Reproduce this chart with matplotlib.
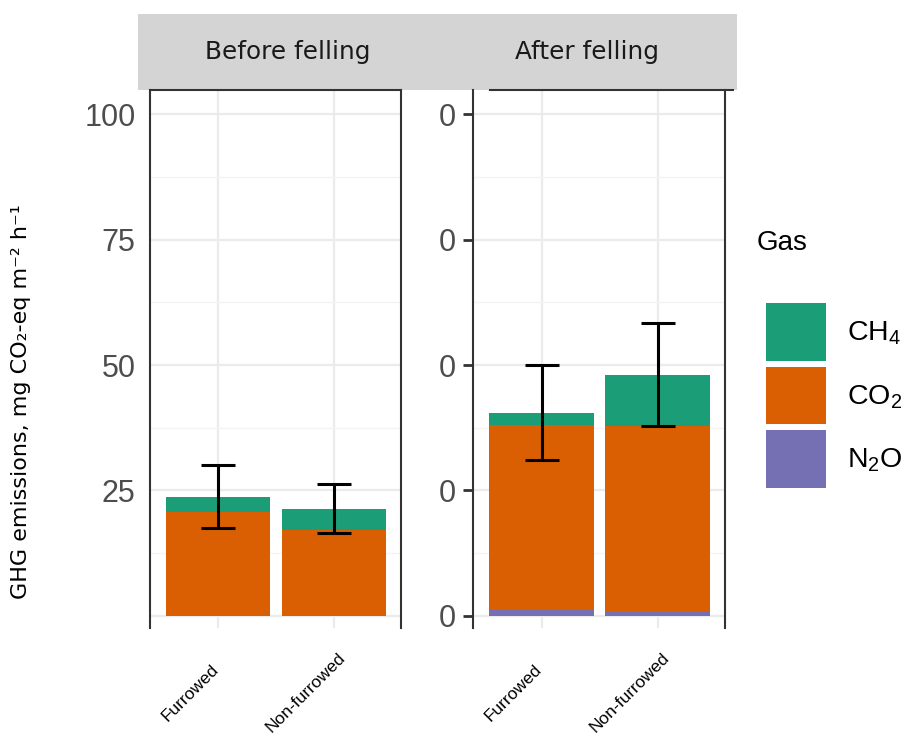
import matplotlib.pyplot as plt
from matplotlib.patches import Patch, Rectangle
from matplotlib.lines import Line2D
from matplotlib import transforms
import numpy as np

plt.rcParams['font.family'] = ['Liberation Sans', 'DejaVu Sans']
plt.rcParams['mathtext.fontset'] = 'custom'
plt.rcParams['mathtext.rm'] = 'Liberation Sans'

# ---- data ----
sites = ["Furrowed", "Non-furrowed"]
periods = ["Before felling", "After felling"]
gas_labels = [r"CH$_\mathregular{4}$", r"CO$_\mathregular{2}$", r"N$_\mathregular{2}$O"]
gas_colors = ["#1b9e77", "#d95f02", "#7570b3"]

# stacked from the bottom: N2O, CO2, CH4
n2o = {"Before felling": [0.2, 0.2], "After felling": [1.2, 0.8]}
co2 = {"Before felling": [20.5, 16.9], "After felling": [36.8, 37.0]}
ch4 = {"Before felling": [3.0, 4.2], "After felling": [2.4, 10.2]}
err_hi = {"Before felling": [30.1, 26.3], "After felling": [50.0, 58.4]}
err_lo = {"Before felling": [17.5, 16.5], "After felling": [31.1, 37.8]}

left_ticks = [0, 25, 50, 75, 100]
left_ticklabels = ["", "25", "50", "75", "100"]
right_ticklabels = ["0", "0", "0", "0", "0"]

W, H = 911, 736
fig = plt.figure(figsize=(W / 100, H / 100), dpi=100)

def px_axes(x0, x1, ytop, ybot):
    return fig.add_axes([x0 / W, (H - ybot) / H, (x1 - x0) / W, (ybot - ytop) / H])

axL = px_axes(150, 401, 90, 628)
axR = px_axes(473, 725, 90, 628)
spine_col = '#333333'

for ax, period in zip([axL, axR], periods):
    x = np.arange(1, len(sites) + 1)
    b0 = np.array(n2o[period])
    b1 = b0 + np.array(co2[period])
    b2 = b1 + np.array(ch4[period])
    ax.bar(x, n2o[period], width=0.9, color=gas_colors[2], zorder=2)
    ax.bar(x, co2[period], bottom=b0, width=0.9, color=gas_colors[1], zorder=2)
    ax.bar(x, ch4[period], bottom=b1, width=0.9, color=gas_colors[0], zorder=2)
    hi = np.array(err_hi[period])
    lo = np.array(err_lo[period])
    ax.errorbar(x, b2, yerr=[b2 - lo, hi - b2], fmt='none', ecolor='black',
                elinewidth=2.2, capsize=12.5, capthick=2.2, zorder=3)

    ax.set_xlim(0.41, 2.58)
    ax.set_ylim(-2.4, 104.8)
    ax.set_yticks([12.5, 37.5, 62.5, 87.5], minor=True)
    ax.grid(which='major', color='#ebebeb', lw=1.6, zorder=0)
    ax.grid(which='minor', axis='y', color='#f3f3f3', lw=0.9, zorder=0)
    ax.set_axisbelow(True)
    ax.tick_params(which='minor', length=0)
    ax.set_xticks(x)
    ax.set_xticklabels(sites, rotation=45, rotation_mode='anchor',
                       ha='center', va='center', fontsize=12.5)
    ax.tick_params(axis='x', length=0, pad=0)
    off = transforms.ScaledTranslation(-0.28, -0.65, fig.dpi_scale_trans)
    for lab in ax.get_xticklabels():
        lab.set_transform(lab.get_transform() + off)
    for s in ax.spines.values():
        s.set_color(spine_col)
        s.set_linewidth(1.5)
    ax.spines['bottom'].set_visible(False)

axL.set_yticks(left_ticks, left_ticklabels)
axL.tick_params(axis='y', length=0, pad=10.5, labelsize=22, labelcolor='#4d4d4d')

axR.set_yticks(left_ticks, right_ticklabels)
axR.tick_params(axis='y', length=7, width=2, color=spine_col, pad=5.5,
                labelsize=22, labelcolor='#4d4d4d')
axR.spines['top'].set_visible(False)

# facet strip
fig.add_artist(Rectangle((138 / W, (H - 90) / H), (737 - 138) / W, 76 / H,
                         transform=fig.transFigure, facecolor='#d4d4d4',
                         edgecolor='none', zorder=-1))
fig.text(288 / W, 1 - 52 / H, periods[0], ha='center', va='center',
         fontsize=17.8, family='DejaVu Sans', color='#1a1a1a')
fig.text(587 / W, 1 - 52 / H, periods[1], ha='center', va='center',
         fontsize=17.8, family='DejaVu Sans', color='#1a1a1a')
fig.add_artist(Line2D([490 / W, 733 / W], [(H - 90) / H] * 2,
                      transform=fig.transFigure, color=spine_col, lw=1.5))

fig.text(21 / W, 1 - 402 / H, "GHG emissions, mg CO₂-eq m⁻² h⁻¹",
         rotation=90, ha='center', va='center', fontsize=16,
         family='DejaVu Sans')

# legend
fig.text(757 / W, 1 - 243 / H, "Gas", ha='left', va='center', fontsize=20)
handles = [Patch(facecolor=c, edgecolor='none') for c in gas_colors]
fig.legend(handles, gas_labels, loc='upper left',
           bbox_to_anchor=(766 / W, 1 - 303 / H), frameon=False, fontsize=20.5,
           handlelength=2.1, handleheight=2.75, labelspacing=0.2,
           handletextpad=0.75, borderpad=0, borderaxespad=0)

fig.savefig("out.png", dpi=100)
